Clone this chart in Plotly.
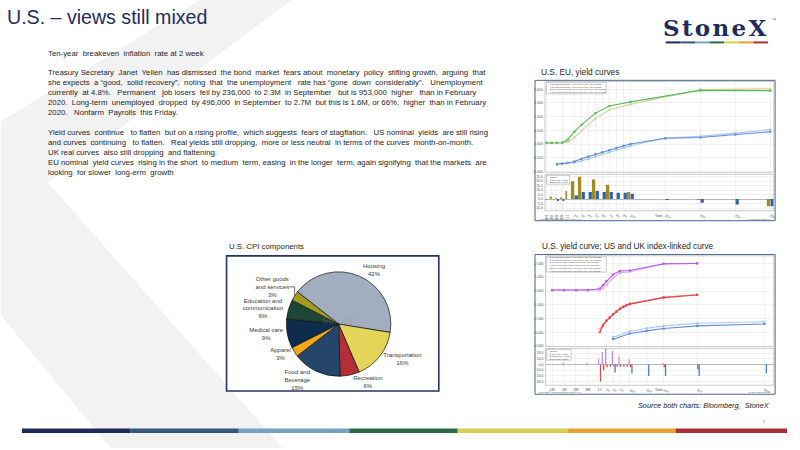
import plotly.graph_objects as go

W, H = 800, 450


def px(x):
    return x / W


def py(y):
    return 1 - y / H


# ---------------- text content ----------------
title_text = "U.S. – views still mixed"
subtitle_text = "Ten-year  breakeven  inflation  rate at 2 week"
para1 = [
    "Treasury Secretary  Janet  Yellen  has dismissed  the bond  market  fears about  monetary  policy  stifling growth,  arguing  that",
    "she expects  a “good,  solid recovery”,  noting  that  the unemployment   rate has “gone  down  considerably”.   Unemployment",
    "currently  at 4.8%.   Permanent   job losers  fell by 236,000  to 2.3M  in September   but is 953,000  higher   than in February",
    "2020.  Long-term  unemployed  dropped  by 496,000  in September  to 2.7M  but this is 1.6M, or 66%,  higher  than in February",
    "2020.   Nonfarm  Payrolls  this Friday.",
]
para2 = [
    "Yield curves  continue   to flatten  but on a rising profile,  which suggests  fears of stagflation.   US nominal  yields  are still rising",
    "and curves  continuing   to flatten.   Real yields still dropping,  more or less neutral  in terms of the curves  month-on-month.",
    "UK real curves  also still dropping  and flattening.",
    "EU nominal  yield curves  rising in the short  to medium  term, easing  in the longer  term, again signifying  that the markets  are",
    "looking  for slower  long-erm  growth",
]

# ---------------- pie data ----------------
cpi_labels = ["Housing", "Transportation", "Recreation", "Food and<br>Beverage", "Apparel",
              "Medical care", "Education and<br>communication", "Other goods<br>and services"]
cpi_shares = [42, 16, 6, 15, 3, 9, 6, 3]
cpi_colors = ["#a2aebf", "#e3d55a", "#b32f35", "#25456b", "#f2a81d", "#0e2c4e", "#1d4634", "#a39a22"]

# ---------------- chart A: U.S. / EU yield curves ----------------
us_tenors = ["1M", "2M", "3M", "6M", "1Y", "2Y", "3Y", "5Y", "7Y", "10Y", "20Y", "30Y"]
us_years = [0.08, 0.17, 0.25, 0.5, 1, 2, 3, 5, 7, 10, 20, 30]
us_now_a = [0.04, 0.04, 0.04, 0.05, 0.15, 0.45, 0.70, 1.13, 1.39, 1.54, 1.96, 1.95]
us_prev_a = [0.04, 0.04, 0.04, 0.05, 0.07, 0.24, 0.48, 0.93, 1.25, 1.45, 1.99, 2.02]
us_chg_a = [-1, 3, 1, 2, 9, 20, 25, 22, 16, 8, -1, -8]

eu_tenors = ["3M", "6M", "1Y", "2Y", "3Y", "4Y", "5Y", "6Y", "7Y", "8Y", "9Y", "10Y", "15Y", "20Y", "25Y", "30Y"]
eu_years = [0.25, 0.5, 1, 2, 3, 4, 5, 6, 7, 8, 9, 10, 15, 20, 25, 30]
eu_now = [-0.74, -0.72, -0.69, -0.64, -0.54, -0.46, -0.37, -0.29, -0.22, -0.14, -0.07, 0.00, 0.21, 0.24, 0.34, 0.45]
eu_prev = [-0.72, -0.70, -0.69, -0.68, -0.62, -0.54, -0.46, -0.37, -0.30, -0.21, -0.14, -0.06, 0.22, 0.28, 0.40, 0.53]
eu_chg = [-2, -2, 0, 4, 8, 8, 9, 8, 8, 7, 7, 6, -1, -4, -6, -8]

a_short_ticks = ["1M", "2M", "3M", "6M", "1Y"]
a_long_tickvals = [2, 3, 4, 5, 6, 7, 8, 9, 10, 15, 20, 25, 30]
a_long_ticktext = ["2Y", "3Y", "4Y", "5Y", "6Y", "7Y", "8Y", "9Y", "10Y", "15Y", "20Y", "25Y", "30Y"]
a_up_ticks = [-1.0, -0.5, 0.0, 0.5, 1.0, 1.5, 2.0]
a_lo_ticks = [-10, -5, 0, 5, 10, 15, 20, 25]

# ---------------- chart B: U.S. nominal, US TIPS, UK linkers ----------------
us_now_b = [0.07, 0.07, 0.07, 0.07, 0.17, 0.43, 0.72, 1.20, 1.45, 1.49, 1.98, 2.00]
us_prev_b = [0.07, 0.07, 0.07, 0.07, 0.07, 0.21, 0.45, 0.96, 1.31, 1.40, 1.96, 2.00]
us_chg_b = [0, 3, 1, 2, 10, 22, 27, 24, 14, 9, 2, 0]

tips_tenors = ["1Y", "2Y", "3Y", "4Y", "5Y", "6Y", "7Y", "8Y", "9Y", "10Y", "20Y", "30Y"]
tips_years = [1, 2, 3, 4, 5, 6, 7, 8, 9, 10, 20, 30]
tips_now = [-2.99, -2.51, -2.17, -1.93, -1.69, -1.49, -1.30, -1.16, -1.04, -0.95, -0.48, -0.29]
tips_prev = [-2.75, -2.40, -2.12, -1.89, -1.66, -1.46, -1.27, -1.12, -1.00, -0.90, -0.44, -0.25]
tips_chg = [-30, -10, -5, -4, -3, -4, -4, -4, -4, -5, -5, -8]

uk_tenors = ["5Y", "10Y", "15Y", "20Y", "30Y", "50Y"]
uk_years = [5, 10, 15, 20, 30, 50]
uk_now = [-3.49, -3.08, -2.89, -2.72, -2.53, -2.39]
uk_prev = [-3.35, -2.92, -2.70, -2.53, -2.34, -2.23]
uk_chg = [-14, -16, -20, -20, -20, -16]

b_short_ticks = ["1M", "2M", "3M", "6M", "1Y"]
b_long_tickvals = [3, 5, 7, 10, 15, 20, 30, 50]
b_long_ticktext = ["3Y", "5Y", "7Y", "10Y", "15Y", "20Y", "30Y", "50Y"]
b_up_ticks = [-4, -3, -2, -1, 0, 1, 2]
b_lo_ticks = [-30, -20, -10, 0, 10, 20]

# ---------------- figure ----------------
fig = go.Figure()
TXT = "Liberation Sans, Arial, sans-serif"


def add_lines(tenors, years, vals, xs, xl, ya, color, width=1.1, msize=2.2):
    sx = [t for t, yr in zip(tenors, years) if yr <= 1]
    sy = [v for v, yr in zip(vals, years) if yr <= 1]
    lx = [yr for yr in years if yr >= 1]
    ly = [v for v, yr in zip(vals, years) if yr >= 1]
    for x, y, xa in ((sx, sy, xs), (lx, ly, xl)):
        if x:
            fig.add_trace(go.Scatter(x=x, y=y, xaxis=xa, yaxis=ya, mode="lines+markers",
                                     line=dict(color=color, width=width),
                                     marker=dict(color=color, size=msize, symbol="square"),
                                     showlegend=False, hoverinfo="skip"))


def add_bars(tenors, years, vals, xs, xl, ya, color, s_off, s_w, l_off, l_w, left):
    sx = [t for t, yr in zip(tenors, years) if yr < 1 or (yr == 1 and left)]
    sy = [v for v, yr in zip(vals, years) if yr < 1 or (yr == 1 and left)]
    lx = [yr for yr in years if yr > 1 or (yr == 1 and not left)]
    ly = [v for v, yr in zip(vals, years) if yr > 1 or (yr == 1 and not left)]
    if sx:
        fig.add_trace(go.Bar(x=sx, y=sy, xaxis=xs, yaxis=ya, marker_color=color,
                             marker_line_width=0, offset=s_off, width=s_w,
                             showlegend=False, hoverinfo="skip"))
    if lx:
        fig.add_trace(go.Bar(x=lx, y=ly, xaxis=xl, yaxis=ya, marker_color=color,
                             marker_line_width=0, offset=l_off, width=l_w,
                             showlegend=False, hoverinfo="skip"))


# Chart A traces
add_lines(eu_tenors, eu_years, eu_prev, "x", "x2", "y", "#a9c8f0")
add_lines(eu_tenors, eu_years, eu_now, "x", "x2", "y", "#5b8fd9")
add_lines(us_tenors, us_years, us_prev_a, "x", "x2", "y", "#d9cf9e")
add_lines(us_tenors, us_years, us_now_a, "x", "x2", "y", "#5cba5c")
add_bars(us_tenors, us_years, us_chg_a, "x3", "x4", "y2", "#a08c1a", -0.38, 0.36, -0.5, 0.46, True)
add_bars(eu_tenors, eu_years, eu_chg, "x3", "x4", "y2", "#2a62b0", 0.02, 0.36, 0.03, 0.46, False)

# Chart B traces
add_lines(uk_tenors, uk_years, uk_prev, "x5", "x6", "y3", "#a9c8f0")
add_lines(uk_tenors, uk_years, uk_now, "x5", "x6", "y3", "#5b8fd9")
add_lines(tips_tenors, tips_years, tips_prev, "x5", "x6", "y3", "#f4a0a0")
add_lines(tips_tenors, tips_years, tips_now, "x5", "x6", "y3", "#e8424a")
add_lines(us_tenors, us_years, us_prev_b, "x5", "x6", "y3", "#dcaaf4")
add_lines(us_tenors, us_years, us_now_b, "x5", "x6", "y3", "#b655e8")
add_bars(us_tenors, us_years, us_chg_b, "x7", "x8", "y4", "#c48ae8", -0.14, 0.11, -0.42, 0.38, True)
add_bars(tips_tenors, tips_years, tips_chg, "x7", "x8", "y4", "#e04040", 0.02, 0.11, 0.0, 0.38, False)
add_bars(uk_tenors, uk_years, uk_chg, "x7", "x8", "y4", "#4a7ac0", 0.14, 0.11, 0.4, 0.38, False)

# Pie
pie_cx, pie_cy, pie_r = 339.3, 325.5, 52.5
fig.add_trace(go.Pie(
    labels=cpi_labels, values=cpi_shares, sort=False, direction="clockwise", rotation=-52,
    marker=dict(colors=cpi_colors, line=dict(color="#111111", width=0.7)),
    textposition="outside", texttemplate="%{label}<br>%{percent}",
    textfont=dict(family=TXT, size=6, color="#3a3a3a"),
    domain=dict(x=[px(pie_cx - pie_r), px(pie_cx + pie_r)], y=[py(pie_cy + pie_r), py(pie_cy - pie_r)]),
    showlegend=False, hoverinfo="skip"))

# ---------------- axes ----------------
tickfont = dict(family=TXT, size=3.5, color="#555555")
grid = "#e6e6e6"


def cat_axis(domain, rng, anchor, cats, labels):
    return dict(domain=domain, anchor=anchor, type="category", categoryorder="array",
                categoryarray=cats, range=rng, showgrid=True, gridcolor=grid, gridwidth=0.5,
                showticklabels=labels, tickfont=tickfont, ticks="", zeroline=False,
                showline=False, fixedrange=True)


def lin_axis(domain, rng, anchor, tv, tt, labels):
    return dict(domain=domain, anchor=anchor, range=rng, tickvals=tv, ticktext=tt,
                showgrid=True, gridcolor=grid, gridwidth=0.5, showticklabels=labels,
                tickfont=tickfont, ticks="", zeroline=False, showline=False, fixedrange=True)


def y_axis(domain, rng, anchor, tv, fmt, zero):
    return dict(domain=domain, anchor=anchor, range=rng, tickvals=tv, tickformat=fmt,
                showgrid=True, gridcolor=grid, gridwidth=0.5, tickfont=tickfont, ticks="",
                zeroline=zero, zerolinecolor="#8a8a8a", zerolinewidth=0.6,
                showline=False, fixedrange=True)


axA_s = [px(546.7), px(569.3)]
axA_l = [px(569.3), px(776.7)]
axB_s = [px(547.3), px(601.7)]
axB_l = [px(601.7), px(776.7)]

layout_axes = dict(
    xaxis=cat_axis(axA_s, [-0.3, 4], "y", a_short_ticks, False),
    xaxis2=lin_axis(axA_l, [1, 30.5], "y", a_long_tickvals, a_long_ticktext, False),
    xaxis3=cat_axis(axA_s, [-0.3, 4], "y2", a_short_ticks, True),
    xaxis4=lin_axis(axA_l, [1, 30.5], "y2", a_long_tickvals, a_long_ticktext, True),
    yaxis=y_axis([py(173), py(82)], [-1.03, 2.28], "x", a_up_ticks, ".3f", False),
    yaxis2=y_axis([py(211.7), py(175)], [-13, 27.8], "x3", a_lo_ticks, ".1f", True),
    xaxis5=cat_axis(axB_s, [-0.56, 4], "y3", b_short_ticks, False),
    xaxis6=lin_axis(axB_l, [1, 52.8], "y3", b_long_tickvals, b_long_ticktext, False),
    xaxis7=cat_axis(axB_s, [-0.56, 4], "y4", b_short_ticks, True),
    xaxis8=lin_axis(axB_l, [1, 52.8], "y4", b_long_tickvals, b_long_ticktext, True),
    yaxis3=y_axis([py(348), py(257)], [-4.02, 2.55], "x5", b_up_ticks, ".3f", False),
    yaxis4=y_axis([py(387), py(350)], [-36.5, 28.2], "x7", b_lo_ticks, ".1f", True),
)
for k in ("xaxis3", "xaxis4", "xaxis7", "xaxis8"):
    layout_axes[k]["ticklabelstandoff"] = 1
for k in ("yaxis", "yaxis2", "yaxis3", "yaxis4"):
    layout_axes[k]["ticklabelstandoff"] = 1

# ---------------- shapes ----------------
shapes = []


def rect(x0, y0, x1, y1, fill=None, line=None, lw=0, layer="below"):
    shapes.append(dict(type="rect", xref="paper", yref="paper",
                       x0=px(x0), x1=px(x1), y0=py(y1), y1=py(y0),
                       fillcolor=fill if fill else "rgba(0,0,0,0)",
                       line=dict(color=line if line else "rgba(0,0,0,0)", width=lw),
                       layer=layer))


# background chevron
chev = [(200, 0), (292, 0), (47, 183), (283, 450), (110, 450), (0, 317), (0, 122)]
path = "M " + " L ".join(f"{px(x):.5f},{py(y):.5f}" for x, y in chev) + " Z"
shapes.append(dict(type="path", xref="paper", yref="paper", path=path,
                   fillcolor="#f2f2f2", line=dict(width=0), layer="below"))

# brand colour bars
brand = ["#1f2a5a", "#34567f", "#74a3c2", "#2a6a4a", "#d8cf50", "#e8a030", "#a83038"]
bottom_edges = [21, 130, 239, 350, 459, 570, 678, 790]
for i, c in enumerate(brand):
    rect(bottom_edges[i], 430.5, bottom_edges[i + 1], 435, fill=c)
logo_edges = [668 + i * (103 / 7) for i in range(8)]
for i, c in enumerate(brand):
    rect(logo_edges[i], 41.6, logo_edges[i + 1], 43.6, fill=c)

# pie frame
rect(226.7, 257, 440, 392.7, fill="white", line="#27365f", lw=1.6)
# bloomberg frames
for (x0, y0, x1, y1) in [(536.7, 80.7, 778, 221.7), (536.7, 255.7, 778, 396)]:
    rect(x0, y0, x1, y1, fill="white", line="#4a6690", lw=1)
for (x0, y0, x1, y1) in [(546.7, 82, 776.7, 173), (546.7, 175, 776.7, 211.7),
                         (547.3, 257, 776.7, 348), (547.3, 350, 776.7, 387)]:
    rect(x0, y0, x1, y1, line="#a8a8a8", lw=0.6, layer="above")
# legend boxes inside bloomberg charts
for (x0, y0, x1, y1) in [(548.3, 83, 608.3, 94.3), (548.3, 176.2, 571.7, 185),
                         (548.3, 258, 608.3, 273.3), (548.3, 351, 573, 361.7)]:
    rect(x0, y0, x1, y1, fill="rgba(255,255,255,0.92)", line="#9a9a9a", lw=0.5, layer="above")

# ---------------- annotations ----------------
ann = []


def text(x, y, s, size, color="#262626", xanchor="left", family=TXT, align="left", yanchor="middle"):
    ann.append(dict(x=px(x), y=py(y), xref="paper", yref="paper", text=s, showarrow=False,
                    xanchor=xanchor, yanchor=yanchor, align=align,
                    font=dict(family=family, size=size, color=color)))


def nb(s):
    return s.replace("  ", "\u00a0 ")


text(4, 17.5, title_text, 19.6, color="#1f2d5c")
text(717, 28, "<b>S\u200at\u200ao\u200an\u200ae\u200aX</b>", 23, color="#1f2d5c", xanchor="center",
     family="DejaVu Serif, serif")
text(773, 20, "™", 4, color="#1f2d5c")
text(45, 53.5, nb(subtitle_text), 7.8)
for i, line in enumerate(para1):
    text(45, 73.3 + 10 * i, nb(line), 7.8)
for i, line in enumerate(para2):
    text(45, 133.3 + 10 * i, nb(line), 7.8)

text(227, 247.5, "U.S. CPI components", 7.8)
text(540.5, 72.5, "U.S. EU, yield curves", 8.3)
text(542, 247.5, "U.S. yield curve; US and UK index-linked curve", 8.2)
text(339, 322, "StoneX", 9, color="rgba(140,140,160,0.35)", xanchor="center", family="DejaVu Serif, serif")

text(775, 407, "<i>Source both charts: Bloomberg,  StoneX</i>", 7.3, color="#1a1a1a", xanchor="right")
text(767, 423.5, "9", 4, color="#888888", xanchor="center")

lgA = ("<span style='color:#5cba5c'>■</span> GC I25 US Treasury Actives Curve Mid YTM 10/05/21<br>"
       "<span style='color:#d9cf9e'>■</span> GC I25 US Treasury Actives Curve Mid YTM 09/05/21<br>"
       "<span style='color:#5b8fd9'>■</span> GC I16 EUR Germany Sovereign Curve Mid YTM 10/05/21<br>"
       "<span style='color:#a9c8f0'>■</span> GC I16 EUR Germany Sovereign Curve Mid YTM 09/05/21")
text(549.5, 88.7, lgA, 2.1, color="#444444")
text(549.5, 180.6, "Change<br><span style='color:#a08c1a'>■</span> US 10/05 - 09/05<br>"
     "<span style='color:#2a62b0'>■</span> EU 10/05 - 09/05", 2.1, color="#444444")
lgB = ("<span style='color:#b655e8'>■</span> GC I25 US Treasury Actives Curve Mid YTM 10/05/21<br>"
       "<span style='color:#dcaaf4'>■</span> GC I25 US Treasury Actives Curve Mid YTM 09/05/21<br>"
       "<span style='color:#5b8fd9'>■</span> GC I41 UK Index-Linked Curve Real YTM 10/05/21<br>"
       "<span style='color:#a9c8f0'>■</span> GC I41 UK Index-Linked Curve Real YTM 09/05/21<br>"
       "<span style='color:#e8424a'>■</span> GC I34 US TIPS Real Yield Curve Mid YTM 10/05/21<br>"
       "<span style='color:#f4a0a0'>■</span> GC I34 US TIPS Real Yield Curve Mid YTM 09/05/21")
text(549.5, 265.6, lgB, 2.1, color="#444444")
text(549.5, 356.3, "Change<br><span style='color:#c48ae8'>■</span> US 10/05 - 09/05<br>"
     "<span style='color:#e04040'>■</span> TIPS 10/05 - 09/05<br>"
     "<span style='color:#4a7ac0'>■</span> UK 10/05 - 09/05", 2.1, color="#444444")

for ytop, ylab in ((216.6, 219.7), (391.4, 394.2)):
    text(661, ytop, "Tenor", 3, color="#444444", xanchor="center")
    text(538.5, ylab, "Copyright© 2021 Bloomberg Finance L.P.", 2.3, color="#555555")
    text(776, ylab, "06-Oct-2021 07:56:41", 2.3, color="#555555", xanchor="right")

fig.update_layout(
    width=W, height=H, margin=dict(l=0, r=0, t=0, b=0),
    paper_bgcolor="white", plot_bgcolor="rgba(0,0,0,0)",
    barmode="overlay", showlegend=False, hovermode=False,
    shapes=shapes, annotations=ann, **layout_axes,
)

fig.write_html("out.html", config={"displayModeBar": False, "staticPlot": True},
               post_script="document.body.style.margin='0';document.body.style.overflow='hidden';")
